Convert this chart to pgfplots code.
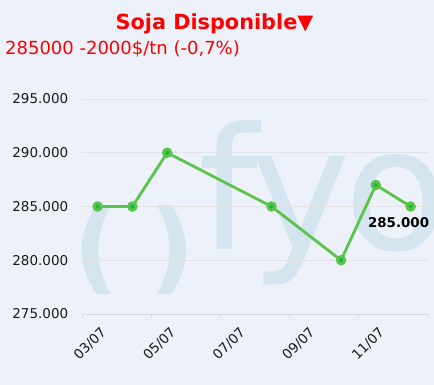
\documentclass[border=0pt]{standalone}
\usepackage{fontspec}
\setmainfont{DejaVu Sans}
\usepackage{pgfplots}
\pgfplotsset{compat=1.18}
\definecolor{bgc}{HTML}{EDF1F9}
\definecolor{wm}{HTML}{D5E5EF}
\definecolor{linec}{HTML}{5CC34B}
\definecolor{markc}{HTML}{1FB43A}
\definecolor{gridc}{HTML}{E3E3E3}
\definecolor{axc}{HTML}{DADADA}
\begin{document}
\begin{tikzpicture}[x=1pt,y=1pt]
\fill[bgc] (-82,-71) rectangle (352,314);
\useasboundingbox (-82,-71) rectangle (352,314);
\node[text=red, font=\fontsize{20.8}{20.8}\selectfont\bfseries, anchor=base, inner sep=0] at (132.5,284) {Soja Disponible▼};
\node[text=red, font=\fontsize{18}{18}\selectfont, anchor=base west, inner sep=0] at (-77,259) {285000 -2000\$/tn (-0,7\%)};
% watermark
\begin{scope}
\clip (-82,-71) rectangle (352,314);
\node[text=wm, font=\fontsize{170}{170}\selectfont, anchor=base west, inner sep=0] at (116,64) {f};
\node[text=wm, font=\fontsize{170}{170}\selectfont, anchor=base west, inner sep=0] at (168,64) {y};
\node[text=wm, font=\fontsize{170}{170}\selectfont, anchor=base west, inner sep=0] at (262,64) {o};
\node[text=wm, font=\fontsize{100}{100}\selectfont\bfseries, inner sep=0] at (14,64) {(};
\node[text=wm, font=\fontsize{100}{100}\selectfont\bfseries, inner sep=0] at (90,64) {)};
\end{scope}
\begin{axis}[
  scale only axis, width=346pt, height=215pt,
  xmin=2.55, xmax=12.5, ymin=275000, ymax=295000,
  axis x line*=bottom, axis y line*=left,
  x axis line style={draw=axc, line width=0.8pt},
  y axis line style={draw=none},
  ytick={275000,280000,285000,290000,295000},
  ytick style={draw=none},
  scaled y ticks=false,
  yticklabel={\pgfmathprintnumber[fixed,1000 sep={.},assume math mode=true]{\tick}},
  yticklabel style={font=\fontsize{13.5}{13.5}\selectfont, text=black!90, xshift=-6pt},
  ymajorgrids, grid style={gridc, line width=0.8pt},
  xtick={3,5,7,9,11},
  xticklabels={03/07,05/07,07/07,09/07,11/07},
  major x tick style={draw=none},
  minor xtick={2.55,4.54,6.53,8.52,10.51,12.5},
  minor x tick style={draw=axc, line width=0.8pt},
  minor tick length=4pt,
  tick align=outside,
  xticklabel style={rotate=45, anchor=north east, font=\fontsize{13.5}{13.5}\selectfont, text=black!90, inner sep=1pt, yshift=-6pt, xshift=-3pt},
  clip=false,
]
\addplot[color=linec, line width=2.8pt, mark=*, mark size=3.8pt, mark options={solid, fill=markc, draw=none}]
  coordinates {(3,285000) (4,285000) (5,290000) (8,285000) (10,280000) (11,287000) (12,285000)};
\addplot[draw=none, mark=none, point meta=y,
  nodes near coords={\pgfmathprintnumber[fixed,1000 sep={.},assume math mode=true]{\pgfplotspointmeta}},
  nodes near coords style={anchor=north, font=\fontsize{13.4}{13.4}\selectfont\bfseries, text=black, xshift=-12pt, yshift=-10pt, inner sep=1pt}]
  coordinates {(12,285000)};
\end{axis}
\end{tikzpicture}
\end{document}
